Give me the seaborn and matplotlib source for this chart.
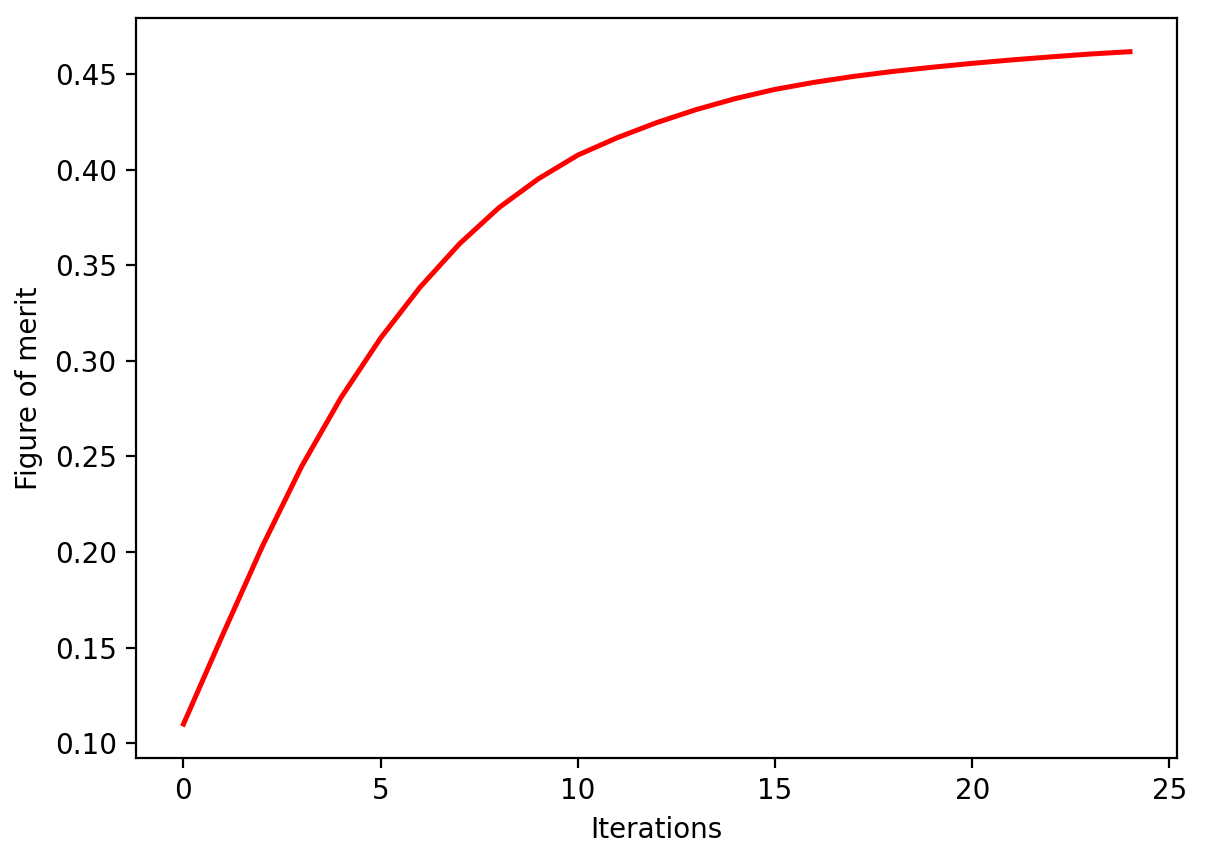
import matplotlib
matplotlib.use('Agg')
import matplotlib.pyplot as plt
import seaborn as sns

# valeurs
iterations = list(range(25))
merit = [0.110, 0.157, 0.203, 0.245, 0.281, 0.312, 0.3386, 0.3613, 0.3802, 0.3953,
         0.4077, 0.4168, 0.4247, 0.4315, 0.4373, 0.4421, 0.4458, 0.4489, 0.4515,
         0.4537, 0.4557, 0.4575, 0.4591, 0.4606, 0.4618]

fig, ax = plt.subplots(figsize=(6.025, 4.305), dpi=200)
sns.lineplot(x=iterations, y=merit, color='red', linewidth=1.8, ax=ax)
ax.set_xlabel('Iterations')
ax.set_ylabel('Figure of merit')
ax.set_xticks([0, 5, 10, 15, 20, 25])
ax.set_yticks([0.10, 0.15, 0.20, 0.25, 0.30, 0.35, 0.40, 0.45])
fig.subplots_adjust(left=0.113, right=0.977, top=0.979, bottom=0.120)
fig.savefig('out.png', dpi=200)
